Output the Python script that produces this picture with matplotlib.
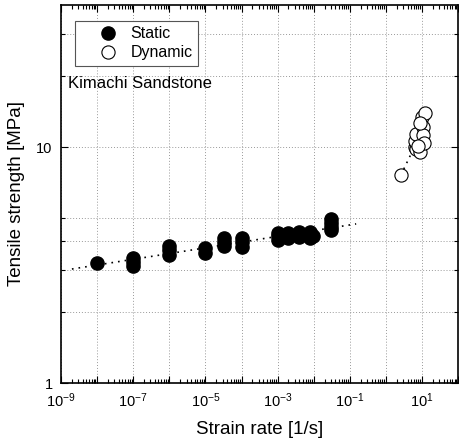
import numpy as np
import matplotlib
matplotlib.use("Agg")
import matplotlib.pyplot as plt
from matplotlib.ticker import FixedLocator, NullFormatter

plt.rcParams['font.family'] = ['Liberation Sans', 'DejaVu Sans']
plt.rcParams['mathtext.default'] = 'regular'

# Static tests: strain rate [1/s] and tensile strength [MPa]
static_rate = [1e-8,
               1e-7, 1e-7, 1e-7,
               1e-6, 1e-6, 1e-6,
               1e-5, 1e-5,
               3.3e-5, 3.3e-5, 3.3e-5,
               1e-4, 1e-4, 1e-4,
               1e-3, 1e-3, 1e-3,
               1.9e-3, 1.9e-3,
               3.8e-3, 3.8e-3,
               8e-3, 8e-3, 9.7e-3,
               3.1e-2, 3.1e-2, 3.1e-2, 3.1e-2]
static_strength = [3.23,
                   3.12, 3.25, 3.38,
                   3.5, 3.65, 3.82,
                   3.55, 3.72,
                   3.8, 3.97, 4.12,
                   3.78, 3.95, 4.12,
                   4.02, 4.18, 4.33,
                   4.1, 4.32,
                   4.15, 4.38,
                   4.12, 4.38, 4.18,
                   4.45, 4.6, 4.78, 4.95]

# Dynamic tests
dynamic_rate = [2.6, 6.3, 6.8, 6.5, 7.0, 8.7, 10.0, 10.7, 10.8, 11.5, 12.3, 9.0, 8.0]
dynamic_strength = [7.6, 10.0, 9.8, 10.6, 11.4, 9.5, 13.4, 12.2, 11.2, 10.4, 14.0, 12.6, 10.1]


def loglog_fit(x, y):
    return np.polyfit(np.log10(x), np.log10(y), 1)


fig = plt.figure(figsize=(4.59, 4.47), dpi=100)
ax = fig.add_axes([0.133, 0.143, 0.865, 0.846])
ax.set_xscale('log')
ax.set_yscale('log')

# trend lines (log-log fits)
p = loglog_fit(static_rate, static_strength)
xs = np.logspace(np.log10(2e-9), np.log10(0.15), 50)
ax.plot(xs, 10 ** np.polyval(p, np.log10(xs)), ls=(0, (1, 3)), color='black', lw=1.2, zorder=2)
pd_ = loglog_fit(dynamic_rate, dynamic_strength)
xd = np.logspace(np.log10(min(dynamic_rate)), np.log10(max(dynamic_rate)), 20)
ax.plot(xd, 10 ** np.polyval(pd_, np.log10(xd)), ls=(0, (1, 3)), color='black', lw=1.2, zorder=2)

ax.plot(static_rate, static_strength, 'o', color='black', ms=9.5, label='Static', zorder=3)
ax.plot(dynamic_rate, dynamic_strength, 'o', mfc='white', mec='black', mew=0.8, ms=9.5,
        label='Dynamic', zorder=3)

ax.set_xlim(1e-9, 1e2)
ax.set_ylim(1, 40)

decades = [10.0 ** e for e in range(-9, 3)]
ax.xaxis.set_major_locator(FixedLocator(decades))
ax.set_xticklabels([f'$10^{{{e}}}$' if e % 2 else '' for e in range(-9, 3)])
ax.xaxis.set_minor_locator(FixedLocator([m * d for d in decades[:-1] for m in range(2, 10)]))
ax.xaxis.set_minor_formatter(NullFormatter())

ax.yaxis.set_major_locator(FixedLocator([1, 10]))
ax.set_yticklabels(['1', '10'])
ax.yaxis.set_minor_locator(FixedLocator([2, 3, 4, 5, 20, 30]))
ax.yaxis.set_minor_formatter(NullFormatter())

ax.tick_params(which='both', direction='in', top=True, right=True, labelsize=10.5, width=0.8)
ax.tick_params(which='major', length=5)
ax.tick_params(which='minor', length=3)
ax.tick_params(axis='x', pad=6)
ax.tick_params(axis='y', pad=6)

ax.grid(True, which='both', axis='y', ls=(0, (1, 2)), color='#999999', lw=0.7)
for d in decades:
    ax.axvline(d, ls=(0, (1, 2)), color='#999999', lw=0.7, zorder=0)

for s in ax.spines.values():
    s.set_linewidth(1.2)

ax.set_xlabel('Strain rate [1/s]', fontsize=13.5)
ax.set_ylabel('Tensile strength [MPa]', fontsize=13.5)
ax.xaxis.set_label_coords(0.5, -0.10)
ax.yaxis.set_label_coords(-0.092, 0.5)

leg = ax.legend(loc='upper left', bbox_to_anchor=(0.036, 0.958), fontsize=11.5, fancybox=False,
                edgecolor='#555555', framealpha=1, handletextpad=-0.3, borderpad=0.35,
                labelspacing=0.25, handlelength=3.4, borderaxespad=0)
leg.get_frame().set_linewidth(0.8)

ax.text(0.018, 0.78, 'Kimachi Sandstone', transform=ax.transAxes, fontsize=12)

fig.savefig('out.png', dpi=100)
